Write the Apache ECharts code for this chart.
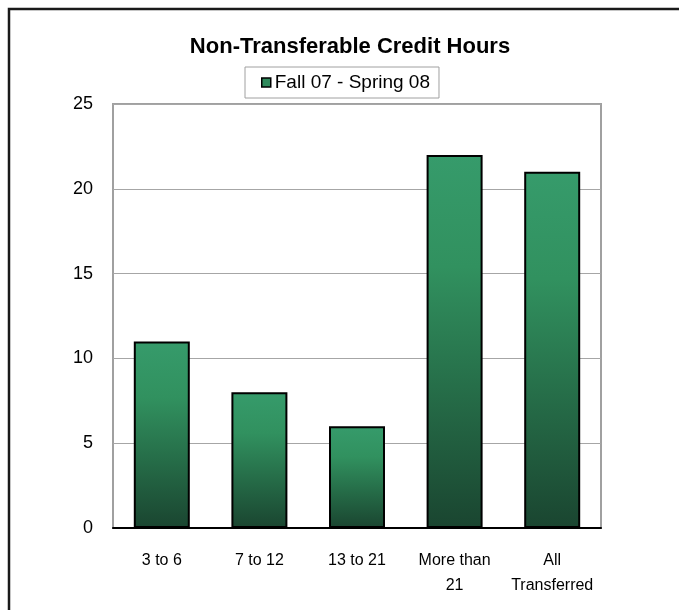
<!DOCTYPE html>
<html>
<head>
<meta charset="utf-8">
<script src="https://cdn.jsdelivr.net/npm/echarts@6/dist/echarts.min.js"></script>
<style>
html,body{margin:0;padding:0;background:#fff;}
#chart{width:679px;height:610px;}
</style>
</head>
<body>
<div id="chart"></div>
<script>
const titleText = 'Non-Transferable Credit Hours';
const seriesName = 'Fall 07 - Spring 08';
const categories = ['3 to 6', '7 to 12', '13 to 21', 'More than\n21', 'All\nTransferred'];
const values = [11, 8, 6, 22, 21];
const yTicks = { min: 0, max: 25, interval: 5 };

const chart = echarts.init(document.getElementById('chart'), null, { renderer: 'canvas' });
const barGradient = new echarts.graphic.LinearGradient(0, 0, 0, 1, [
  { offset: 0, color: '#369b6b' },
  { offset: 0.3, color: '#31915f' },
  { offset: 0.65, color: '#256b47' },
  { offset: 1, color: '#1a4530' }
]);
chart.setOption({
  backgroundColor: '#ffffff',
  animation: false,
  graphic: [{
    type: 'rect',
    shape: { x: 9, y: 9, width: 720, height: 700 },
    style: { fill: 'none', stroke: '#1a1a1a', lineWidth: 2.5 },
    silent: true
  }],
  title: {
    text: titleText,
    left: 345,
    top: 31,
    textAlign: 'center',
    textStyle: { fontFamily: 'Liberation Sans', fontWeight: 'bold', fontSize: 22, color: '#000' }
  },
  legend: {
    data: [{ name: seriesName, itemStyle: { color: '#2f8a5c', borderColor: '#000', borderWidth: 1.5 } }],
    left: 245,
    top: 67,
    padding: [6, 9, 6, 16],
    itemWidth: 9,
    itemHeight: 9,
    itemGap: 4,
    icon: 'rect',
    borderColor: '#a0a0a0',
    borderWidth: 1,
    textStyle: { fontFamily: 'Liberation Sans', fontSize: 19, color: '#000', padding: [0, 0, 0, -1] }
  },
  grid: {
    left: 113, right: 78, top: 104, bottom: 82,
    show: true, borderColor: '#a0a0a0', borderWidth: 2
  },
  xAxis: {
    type: 'category',
    data: categories,
    axisLine: { show: true, lineStyle: { color: '#000', width: 2 } },
    axisTick: { show: false },
    axisLabel: {
      fontFamily: 'Liberation Sans', fontSize: 16, color: '#000',
      lineHeight: 25, margin: 20, interval: 0
    }
  },
  yAxis: {
    type: 'value',
    min: yTicks.min, max: yTicks.max, interval: yTicks.interval,
    axisLine: { show: false },
    axisTick: { show: false },
    splitLine: { lineStyle: { color: '#a6a6a6', width: 1 } },
    axisLabel: { fontFamily: 'Liberation Sans', fontSize: 18, color: '#000', margin: 20 }
  },
  series: [{
    name: seriesName,
    type: 'bar',
    data: values,
    barWidth: 56,
    itemStyle: { color: barGradient, borderColor: '#000', borderWidth: 2 }
  }]
});
</script>
</body>
</html>
